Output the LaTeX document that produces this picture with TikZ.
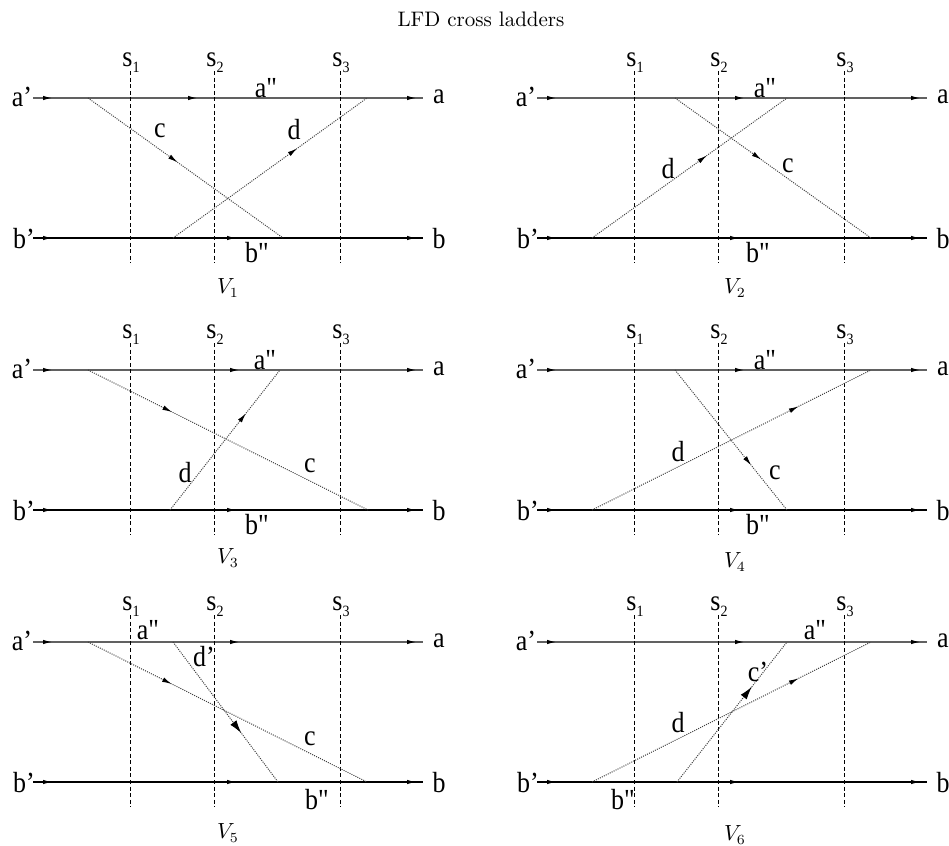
\documentclass[tikz,border=0pt]{standalone}
\usepackage{fontspec}
\newfontfamily\lblfont{Liberation Serif}
\usetikzlibrary{arrows.meta,decorations.markings}
\newcommand{\lbltext}[1]{\scalebox{1}[1.12]{\lblfont\fontsize{13}{15}\selectfont #1}}
\newcommand{\stext}[1]{\scalebox{1}[1.12]{\lblfont\fontsize{13}{15}\selectfont s\raisebox{-0.45ex}{\fontsize{7}{8}\selectfont #1}}}
\tikzset{
  x=0.5pt, y=-0.5pt,
  lbl/.style={inner sep=0pt, font=\lblfont},
  cmtext/.style={inner sep=0pt, font=\fontsize{10.5}{12}\selectfont},
  topline/.style={line width=0.75pt, draw=black!62},
  botline/.style={line width=0.7pt, draw=black},
  sline/.style={line width=0.5pt, dash pattern=on 2pt off 1.3pt},
  diag/.style={line width=0.5pt, draw=black!75, dash pattern=on 0.5pt off 0.6pt},
  hmarks/.style={postaction={decorate, decoration={markings,
      mark=at position 10pt with {\arrow{Latex[length=5pt,width=2.2pt,color=black]}},
      mark=at position #1 with {\arrow{Latex[length=5pt,width=2.2pt,color=black]}},
      mark=at position 192pt with {\arrow{Latex[length=5pt,width=2.2pt,color=black]}}}}},
  arrowat/.style={postaction={decorate, decoration={markings,
      mark=at position #1 with {\arrow{Latex[length=4.8pt,width=2.4pt,color=black]}}}}},
  bigarrowat/.style={postaction={decorate, decoration={markings,
      mark=at position #1 with {\arrow{Latex[length=6.5pt,width=3.8pt,color=black]}}}}},
}
% #1 prefix, #2 top mid arrow position, #3 bottom mid arrow position
\newcommand{\ladderbase}[3]{%
  \coordinate (#1tl) at (33,98);  \coordinate (#1tr) at (423,98);
  \coordinate (#1bl) at (33,238); \coordinate (#1br) at (423,238);
  \draw[topline, hmarks=#2] (#1tl) -- (#1tr);
  \draw[botline, hmarks=#3] (#1bl) -- (#1br);
  \coordinate (#1s1t) at (130,71); \coordinate (#1s1b) at (130,263);
  \coordinate (#1s2t) at (214,71); \coordinate (#1s2b) at (214,263);
  \coordinate (#1s3t) at (340,71); \coordinate (#1s3b) at (340,263);
  \draw[sline] (#1s1t) -- (#1s1b);
  \draw[sline] (#1s2t) -- (#1s2b);
  \draw[sline] (#1s3t) -- (#1s3b);
  \node[lbl, anchor=west] (#1sl1) at (122,63) {\stext{1}};
  \node[lbl, anchor=west] (#1sl2) at (206,63) {\stext{2}};
  \node[lbl, anchor=west] (#1sl3) at (332,63) {\stext{3}};
  \node[lbl] (#1ap) at (22,97) {\lbltext{a’}};
  \node[lbl] (#1a) at (439,97) {\lbltext{a}};
  \node[lbl] (#1bp) at (24,239) {\lbltext{b’}};
  \node[lbl] (#1b) at (439,239) {\lbltext{b}};
}
\begin{document}
\begin{tikzpicture}
\useasboundingbox (0,0) rectangle (949,846);
\node[cmtext] (title) at (481,19) {LFD cross ladders};

% V1
\begin{scope}[shift={(0,0)}]
  \ladderbase{p1}{82.5pt}{102pt}
  \coordinate (p1c1) at (88,98);   \coordinate (p1c2) at (283,238);
  \coordinate (p1d1) at (173,238); \coordinate (p1d2) at (367,98);
  \draw[diag, arrowat=0.46] (p1c1) -- (p1c2);
  \draw[diag, arrowat=0.64] (p1d1) -- (p1d2);
  \node[lbl] (p1cl) at (160,131) {\lbltext{c}};
  \node[lbl] (p1dl) at (294,130) {\lbltext{d}};
  \node[lbl] (p1app) at (266,88) {\lbltext{a"}};
  \node[lbl] (p1bpp) at (257,253) {\lbltext{b"}};
  \node[cmtext] (p1V) at (228,288) {$V_1$};
\end{scope}

% V2
\begin{scope}[shift={(504,0)}]
  \ladderbase{p2}{104pt}{101.5pt}
  \coordinate (p2c1) at (171,98); \coordinate (p2c2) at (367,238);
  \coordinate (p2d1) at (88,238); \coordinate (p2d2) at (283,98);
  \draw[diag, arrowat=0.44] (p2c1) -- (p2c2);
  \draw[diag, arrowat=0.59] (p2d1) -- (p2d2);
  \node[lbl] (p2cl) at (284,166) {\lbltext{c}};
  \node[lbl] (p2dl) at (164,169) {\lbltext{d}};
  \node[lbl] (p2app) at (261,88) {\lbltext{a"}};
  \node[lbl] (p2bpp) at (254,253) {\lbltext{b"}};
  \node[cmtext] (p2V) at (231,288) {$V_2$};
\end{scope}

% V3
\begin{scope}[shift={(0,272)}]
  \ladderbase{p3}{103.5pt}{102pt}
  \coordinate (p3c1) at (88,98);   \coordinate (p3c2) at (368,238);
  \coordinate (p3d1) at (170,238); \coordinate (p3d2) at (280,98);
  \draw[diag, arrowat=0.30] (p3c1) -- (p3c2);
  \draw[diag, arrowat=0.69] (p3d1) -- (p3d2);
  \node[lbl] (p3cl) at (310,194) {\lbltext{c}};
  \node[lbl] (p3dl) at (185,201) {\lbltext{d}};
  \node[lbl] (p3app) at (265,88) {\lbltext{a"}};
  \node[lbl] (p3bpp) at (257,253) {\lbltext{b"}};
  \node[cmtext] (p3V) at (228,286) {$V_3$};
\end{scope}

% V4
\begin{scope}[shift={(504,272)}]
  \ladderbase{p4}{104pt}{101.5pt}
  \coordinate (p4c1) at (171,98); \coordinate (p4c2) at (283,238);
  \coordinate (p4d1) at (88,238); \coordinate (p4d2) at (367,98);
  \draw[diag, arrowat=0.68] (p4c1) -- (p4c2);
  \draw[diag, arrowat=0.74] (p4d1) -- (p4d2);
  \node[lbl] (p4cl) at (271,201) {\lbltext{c}};
  \node[lbl] (p4dl) at (174,180) {\lbltext{d}};
  \node[lbl] (p4app) at (261,88) {\lbltext{a"}};
  \node[lbl] (p4bpp) at (254,253) {\lbltext{b"}};
  \node[cmtext] (p4V) at (231,290) {$V_4$};
\end{scope}

% V5
\begin{scope}[shift={(0,544)}]
  \ladderbase{p5}{103.5pt}{102pt}
  \coordinate (p5c1) at (88,98);  \coordinate (p5c2) at (367,238);
  \coordinate (p5d1) at (173,98); \coordinate (p5d2) at (278,238);
  \draw[diag, arrowat=0.30] (p5c1) -- (p5c2);
  \draw[diag, bigarrowat=0.65] (p5d1) -- (p5d2);
  \node[lbl] (p5cl) at (310,195) {\lbltext{c}};
  \node[lbl] (p5dl) at (204,113) {\lbltext{d’}};
  \node[lbl] (p5app) at (148,86) {\lbltext{a"}};
  \node[lbl] (p5bpp) at (317,256) {\lbltext{b"}};
  \node[cmtext] (p5V) at (228,289) {$V_5$};
\end{scope}

% V6
\begin{scope}[shift={(504,544)}]
  \ladderbase{p6}{104pt}{101.5pt}
  \coordinate (p6d1) at (88,238);  \coordinate (p6d2) at (367,98);
  \coordinate (p6c1) at (173,238); \coordinate (p6c2) at (283,98);
  \draw[diag, arrowat=0.74] (p6d1) -- (p6d2);
  \draw[diag, bigarrowat=0.68] (p6c1) -- (p6c2);
  \node[lbl] (p6dl) at (174,179) {\lbltext{d}};
  \node[lbl] (p6cl) at (254,128) {\lbltext{c’}};
  \node[lbl] (p6app) at (311,86) {\lbltext{a"}};
  \node[lbl] (p6bpp) at (119,256) {\lbltext{b"}};
  \node[cmtext] (p6V) at (231,291) {$V_6$};
\end{scope}
\end{tikzpicture}
\end{document}
